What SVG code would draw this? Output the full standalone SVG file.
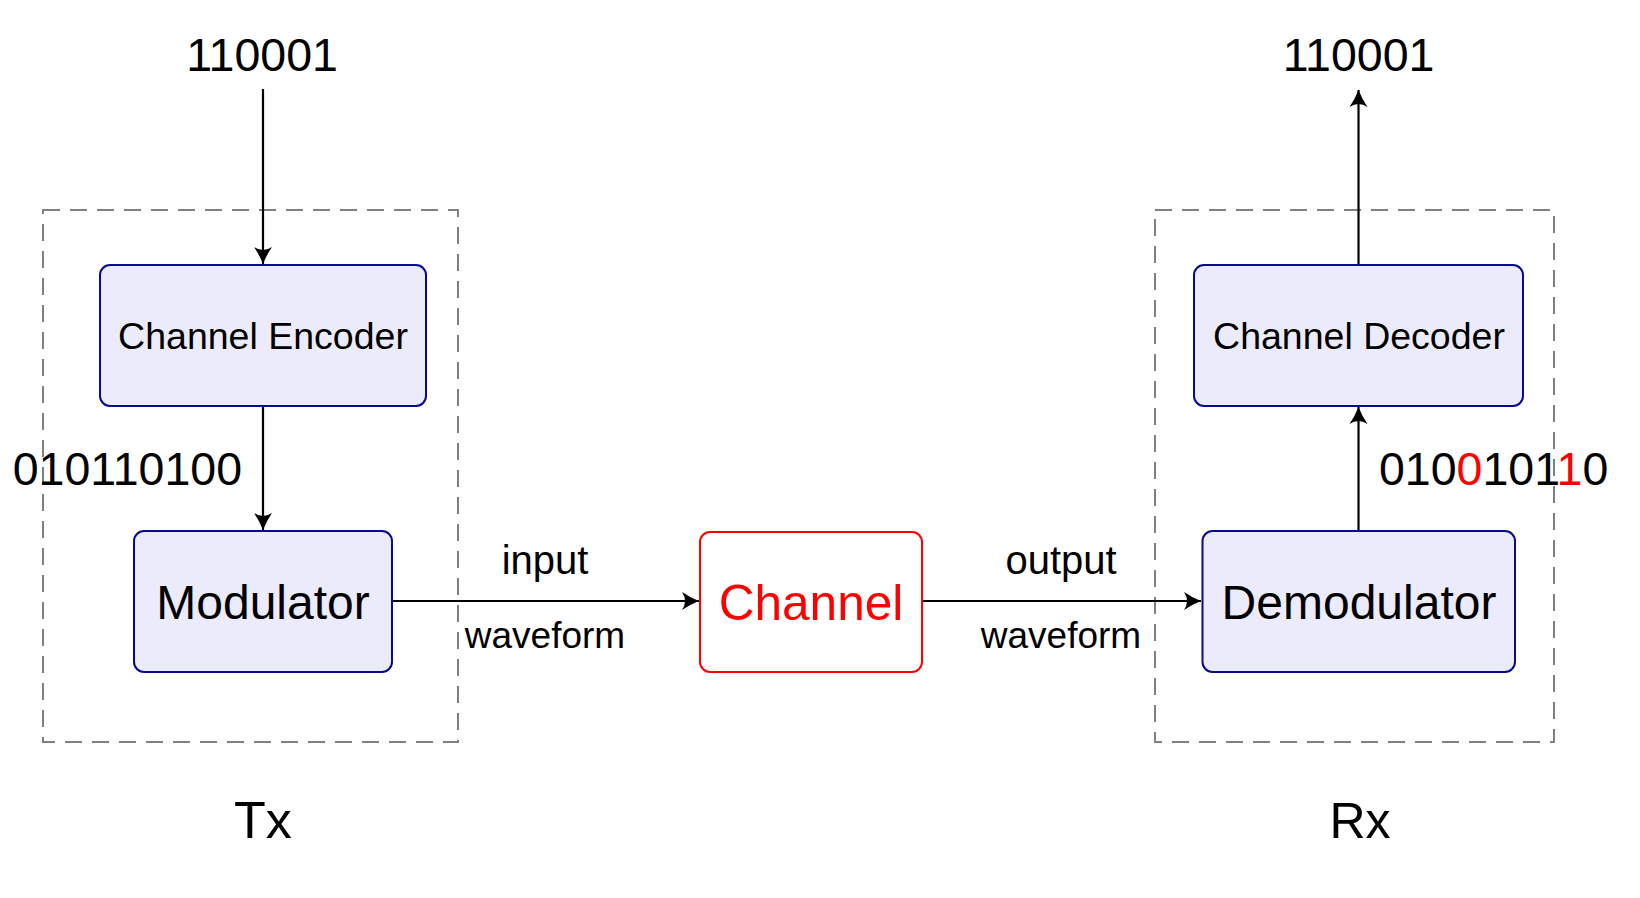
<svg xmlns="http://www.w3.org/2000/svg" width="1640" height="898" viewBox="0 0 1640 898">
<style>
text{font-family:"Liberation Sans","DejaVu Sans",sans-serif;fill:#000}
.box{fill:#EBEBFC;stroke:#0A0A8C;stroke-width:2}
.chan{fill:#fff;stroke:#FF0000;stroke-width:2}
.dash{fill:none;stroke:#808080;stroke-width:2;stroke-dasharray:17 10}
.conn{stroke:#000;stroke-width:2.2;fill:none}
.mid{text-anchor:middle}
.red{fill:#FF0000}
</style>
<defs>
<marker id="arr" markerUnits="userSpaceOnUse" viewBox="-18 -10 19 20" refX="0" refY="0" markerWidth="19" markerHeight="20" orient="auto">
<path d="M0,0 Q-9,-3.5 -17,-9 Q-11,0 -17,9 Q-9,3.5 0,0 Z" fill="#000"/>
</marker>
</defs>
<rect width="1640" height="898" fill="#fff"/>
<g id="tx-frame">
<rect class="dash" x="43" y="210" width="415" height="532"/>
<text class="mid" x="263" y="838" font-size="52">Tx</text>
</g>
<g id="rx-frame">
<rect class="dash" x="1155" y="210" width="399" height="532"/>
<text class="mid" x="1360" y="838" font-size="50">Rx</text>
</g>
<g id="connectors">
<line class="conn" x1="263" y1="89" x2="263" y2="264" marker-end="url(#arr)"/>
<line class="conn" x1="263" y1="406" x2="263" y2="530" marker-end="url(#arr)"/>
<line class="conn" x1="392" y1="601" x2="699" y2="601" marker-end="url(#arr)"/>
<line class="conn" x1="922" y1="601" x2="1201" y2="601" marker-end="url(#arr)"/>
<line class="conn" x1="1358.5" y1="531" x2="1358.5" y2="407" marker-end="url(#arr)"/>
<line class="conn" x1="1358.5" y1="265" x2="1358.5" y2="90" marker-end="url(#arr)"/>
<text class="mid" x="545" y="574" font-size="40">input</text>
<text class="mid" x="545" y="648" font-size="37">waveform</text>
<text class="mid" x="1061" y="574" font-size="40">output</text>
<text class="mid" x="1061" y="648" font-size="37">waveform</text>
</g>
<g id="source-bits">
<text class="mid" x="262" y="71" font-size="46.5">110001</text>
</g>
<g id="sink-bits">
<text class="mid" x="1358.5" y="71" font-size="46.5">110001</text>
</g>
<g id="coded-bits">
<text x="242" y="485" font-size="46.5" text-anchor="end">010110100</text>
</g>
<g id="received-bits">
<text x="1379" y="485" font-size="46.5">010<tspan class="red">0</tspan>101<tspan class="red">1</tspan>0</text>
</g>
<g id="encoder">
<rect class="box" x="100" y="265" width="326" height="141" rx="10"/>
<text class="mid" x="263" y="349" font-size="37.5">Channel Encoder</text>
</g>
<g id="modulator">
<rect class="box" x="134" y="531" width="258" height="141" rx="10"/>
<text class="mid" x="263" y="619" font-size="48">Modulator</text>
</g>
<g id="channel">
<rect class="chan" x="700" y="532" width="222" height="140" rx="10"/>
<text class="mid red" x="811" y="620" font-size="49.5">Channel</text>
</g>
<g id="demodulator">
<rect class="box" x="1202.5" y="531" width="312.5" height="141" rx="10"/>
<text class="mid" x="1359" y="619" font-size="48">Demodulator</text>
</g>
<g id="decoder">
<rect class="box" x="1194" y="265" width="329" height="141" rx="10"/>
<text class="mid" x="1359" y="349" font-size="37.5">Channel Decoder</text>
</g>
</svg>
